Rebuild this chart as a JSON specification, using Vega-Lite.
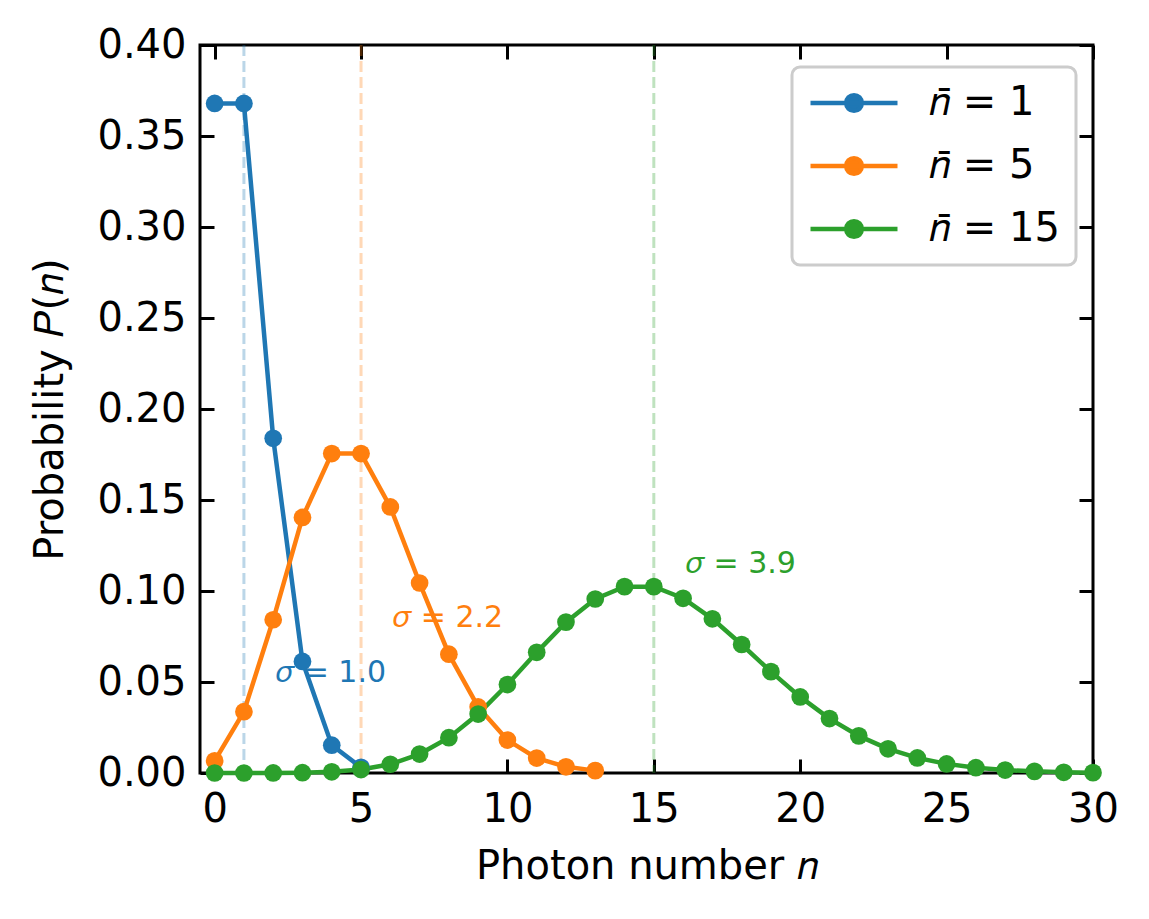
{
  "$schema": "https://vega.github.io/schema/vega-lite/v6.json",
  "width": 893,
  "height": 728,
  "autosize": "none",
  "padding": {"left": 200, "top": 45, "right": 56, "bottom": 146},
  "background": "white",
  "config": {
    "font": "DejaVu Sans",
    "view": {"stroke": "black", "strokeWidth": 3},
    "axis": {
      "labelFont": "DejaVu Sans", "labelFontSize": 40, "labelColor": "black",
      "titleFont": "DejaVu Sans", "titleFontSize": 40, "titleFontWeight": "normal", "titleColor": "black",
      "tickColor": "black", "tickWidth": 3, "tickSize": -14,
      "domain": false, "grid": false, "labelFlush": false, "labelOverlap": false, "labelBound": false
    }
  },
  "datasets": {
    "poisson": [
      {"series": "𝑛̄ = 1", "n": 0, "p": 0.3679},
      {"series": "𝑛̄ = 1", "n": 1, "p": 0.3679},
      {"series": "𝑛̄ = 1", "n": 2, "p": 0.1839},
      {"series": "𝑛̄ = 1", "n": 3, "p": 0.0613},
      {"series": "𝑛̄ = 1", "n": 4, "p": 0.0153},
      {"series": "𝑛̄ = 1", "n": 5, "p": 0.0031},
      {"series": "𝑛̄ = 5", "n": 0, "p": 0.0067},
      {"series": "𝑛̄ = 5", "n": 1, "p": 0.0337},
      {"series": "𝑛̄ = 5", "n": 2, "p": 0.0842},
      {"series": "𝑛̄ = 5", "n": 3, "p": 0.1404},
      {"series": "𝑛̄ = 5", "n": 4, "p": 0.1755},
      {"series": "𝑛̄ = 5", "n": 5, "p": 0.1755},
      {"series": "𝑛̄ = 5", "n": 6, "p": 0.1462},
      {"series": "𝑛̄ = 5", "n": 7, "p": 0.1044},
      {"series": "𝑛̄ = 5", "n": 8, "p": 0.0653},
      {"series": "𝑛̄ = 5", "n": 9, "p": 0.0363},
      {"series": "𝑛̄ = 5", "n": 10, "p": 0.0181},
      {"series": "𝑛̄ = 5", "n": 11, "p": 0.0082},
      {"series": "𝑛̄ = 5", "n": 12, "p": 0.0034},
      {"series": "𝑛̄ = 5", "n": 13, "p": 0.0013},
      {"series": "𝑛̄ = 15", "n": 0, "p": 0.0},
      {"series": "𝑛̄ = 15", "n": 1, "p": 0.0},
      {"series": "𝑛̄ = 15", "n": 2, "p": 0.00003},
      {"series": "𝑛̄ = 15", "n": 3, "p": 0.00017},
      {"series": "𝑛̄ = 15", "n": 4, "p": 0.00065},
      {"series": "𝑛̄ = 15", "n": 5, "p": 0.0019},
      {"series": "𝑛̄ = 15", "n": 6, "p": 0.0048},
      {"series": "𝑛̄ = 15", "n": 7, "p": 0.0104},
      {"series": "𝑛̄ = 15", "n": 8, "p": 0.0194},
      {"series": "𝑛̄ = 15", "n": 9, "p": 0.0324},
      {"series": "𝑛̄ = 15", "n": 10, "p": 0.0486},
      {"series": "𝑛̄ = 15", "n": 11, "p": 0.0663},
      {"series": "𝑛̄ = 15", "n": 12, "p": 0.0829},
      {"series": "𝑛̄ = 15", "n": 13, "p": 0.0956},
      {"series": "𝑛̄ = 15", "n": 14, "p": 0.1024},
      {"series": "𝑛̄ = 15", "n": 15, "p": 0.1024},
      {"series": "𝑛̄ = 15", "n": 16, "p": 0.096},
      {"series": "𝑛̄ = 15", "n": 17, "p": 0.0847},
      {"series": "𝑛̄ = 15", "n": 18, "p": 0.0706},
      {"series": "𝑛̄ = 15", "n": 19, "p": 0.0557},
      {"series": "𝑛̄ = 15", "n": 20, "p": 0.0418},
      {"series": "𝑛̄ = 15", "n": 21, "p": 0.0299},
      {"series": "𝑛̄ = 15", "n": 22, "p": 0.0204},
      {"series": "𝑛̄ = 15", "n": 23, "p": 0.0133},
      {"series": "𝑛̄ = 15", "n": 24, "p": 0.0083},
      {"series": "𝑛̄ = 15", "n": 25, "p": 0.005},
      {"series": "𝑛̄ = 15", "n": 26, "p": 0.0029},
      {"series": "𝑛̄ = 15", "n": 27, "p": 0.0016},
      {"series": "𝑛̄ = 15", "n": 28, "p": 0.0009},
      {"series": "𝑛̄ = 15", "n": 29, "p": 0.0004},
      {"series": "𝑛̄ = 15", "n": 30, "p": 0.0002}
    ],
    "vlines": [
      {"series": "𝑛̄ = 1", "nbar": 1},
      {"series": "𝑛̄ = 5", "nbar": 5},
      {"series": "𝑛̄ = 15", "nbar": 15}
    ],
    "sigmas": [
      {"series": "𝑛̄ = 1", "x": 2.1, "y": 0.05, "t": "𝜎 = 1.0"},
      {"series": "𝑛̄ = 5", "x": 6.1, "y": 0.08, "t": "𝜎 = 2.2"},
      {"series": "𝑛̄ = 15", "x": 16.1, "y": 0.11, "t": "𝜎 = 3.9"}
    ]
  },
  "layer": [
    {
      "data": {"name": "vlines"},
      "mark": {"type": "rule", "strokeDash": [11, 5], "strokeWidth": 3, "opacity": 0.3},
      "encoding": {
        "x": {"field": "nbar", "type": "quantitative",
          "scale": {"domain": [-0.5, 30], "nice": false, "zero": false},
          "axis": {"orient": "top", "labels": false, "title": null, "values": [0, 5, 10, 15, 20, 25, 30]}},
        "color": {"field": "series", "type": "nominal",
          "scale": {"domain": ["𝑛̄ = 1", "𝑛̄ = 5", "𝑛̄ = 15"], "range": ["#1f77b4", "#ff7f0e", "#2ca02c"]}}
      }
    },
    {
      "data": {"name": "poisson"},
      "mark": {"type": "line", "strokeWidth": 4.5, "point": {"filled": true, "size": 314, "opacity": 1}},
      "encoding": {
        "x": {"field": "n", "type": "quantitative",
          "scale": {"domain": [-0.5, 30], "nice": false, "zero": false},
          "axis": {"orient": "bottom", "title": "Photon number 𝑛", "values": [0, 5, 10, 15, 20, 25, 30], "labelPadding": 30, "titlePadding": 17}},
        "y": {"field": "p", "type": "quantitative",
          "scale": {"domain": [0, 0.4], "nice": false},
          "axis": {"orient": "left", "title": "Probability 𝑃(𝑛)", "values": [0, 0.05, 0.1, 0.15, 0.2, 0.25, 0.3, 0.35, 0.4], "format": ".2f", "labelPadding": 28, "titlePadding": 26}},
        "color": {"field": "series", "type": "nominal",
          "scale": {"domain": ["𝑛̄ = 1", "𝑛̄ = 5", "𝑛̄ = 15"], "range": ["#1f77b4", "#ff7f0e", "#2ca02c"]},
          "legend": {
            "title": null,
            "orient": "none", "legendX": 592, "legendY": 22,
            "labelFont": "DejaVu Sans", "labelFontSize": 40, "labelColor": "black",
            "strokeColor": "#cccccc", "fillColor": "white", "cornerRadius": 8, "padding": 16,
            "symbolType": "M-1,0H1M-0.18,0A0.18,0.18,0,1,1,0.18,0A0.18,0.18,0,1,1,-0.18,0Z",
            "symbolSize": 7569, "symbolStrokeWidth": 4.5, "clipHeight": 40, "rowPadding": 23,
            "labelOffset": 29, "symbolOpacity": 1,
            "encode": {
              "legend": {"update": {"strokeWidth": {"value": 3}}},
              "symbols": {"update": {"fill": {"scale": "color", "field": "value"}, "stroke": {"scale": "color", "field": "value"}, "opacity": {"value": 1}}}
            }
          }}
      }
    },
    {
      "data": {"name": "sigmas"},
      "mark": {"type": "text", "fontSize": 30, "align": "left", "baseline": "alphabetic", "font": "DejaVu Sans"},
      "encoding": {
        "x": {"field": "x", "type": "quantitative", "scale": {"domain": [-0.5, 30], "nice": false, "zero": false}, "axis": null},
        "y": {"field": "y", "type": "quantitative", "scale": {"domain": [0, 0.4], "nice": false},
          "axis": {"orient": "right", "labels": false, "title": null, "values": [0, 0.05, 0.1, 0.15, 0.2, 0.25, 0.3, 0.35, 0.4]}},
        "text": {"field": "t"},
        "color": {"field": "series", "type": "nominal",
          "scale": {"domain": ["𝑛̄ = 1", "𝑛̄ = 5", "𝑛̄ = 15"], "range": ["#1f77b4", "#ff7f0e", "#2ca02c"]}}
      }
    }
  ],
  "resolve": {"axis": {"x": "independent", "y": "independent"}}
}
